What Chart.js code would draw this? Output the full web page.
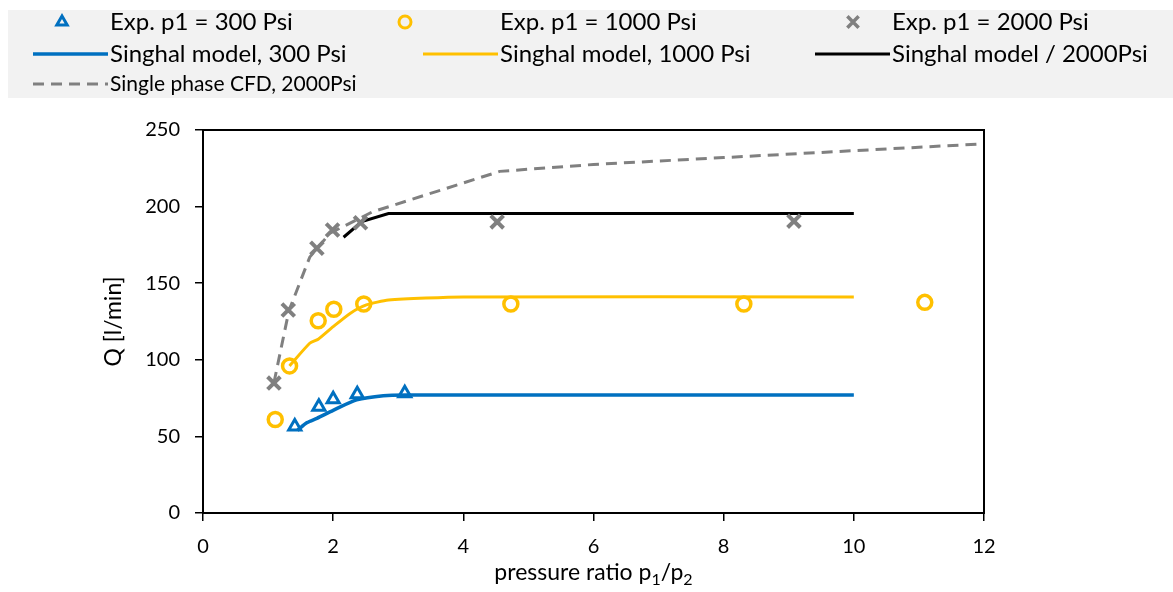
<!DOCTYPE html>
<html>
<head>
<meta charset="utf-8">
<script src="https://cdn.jsdelivr.net/npm/chart.js@4.4.1/dist/chart.umd.min.js"></script>
<style>
  html, body { margin: 0; padding: 0; background: #fff; }
  #wrap { width: 1173px; height: 592px; position: relative; }
</style>
</head>
<body>
<div id="wrap"><canvas id="chart"></canvas></div>
<script>
// experimental points
const ratio300 = [1.41, 1.78, 2.0, 2.37, 3.1];
const flow300 = [56.5, 69.4, 74.2, 77.5, 78.1];
const ratio1000 = [1.11, 1.33, 1.77, 2.01, 2.47, 4.73, 8.31, 11.09];
const flow1000 = [61, 96, 125.5, 133, 136.4, 136.4, 136.4, 137.5];
const ratio2000 = [1.09, 1.31, 1.75, 1.99, 2.42, 4.52, 9.08];
const flow2000 = [84.8, 132.5, 172.8, 184.7, 189.5, 190, 190.5];

// model curves
const model300X = [1.45, 1.6, 1.75, 2.0, 2.36, 2.77, 3.13, 10];
const model300Y = [54, 59, 61.8, 67, 73.8, 76.6, 77, 77];
const model1000X = [1.33, 1.64, 1.77, 2.0, 2.26, 2.51, 2.85, 4.0, 10];
const model1000Y = [96, 110.8, 113.4, 121.6, 130.3, 135.8, 139, 141, 141];
const model2000X = [2.16, 2.44, 2.85, 10];
const model2000Y = [180, 190.2, 195.5, 195.5];
const cfdX = [1.09, 1.32, 1.64, 1.95, 2.36, 2.6, 4.56, 6, 8, 10, 12];
const cfdY = [85, 132, 167, 182.6, 191.3, 196.5, 223, 227.5, 232, 236.5, 241];

const xTicks = [0, 2, 4, 6, 8, 10, 12];
const yTicks = [0, 50, 100, 150, 200, 250];

const FONT = 'Lato, "Open Sans", sans-serif';

function pts(xs, ys) {
  return xs.map((x, i) => ({ x, y: ys[i] }));
}

const datasets = [
  {
    label: 'Exp. p1 = 300 Psi',
    data: pts(ratio300, flow300),
    pointStyle: 'triangle', pointRadius: 7, pointBorderWidth: 3,
    borderColor: '#0070c0', backgroundColor: 'rgba(0,0,0,0)', showLine: false
  },
  {
    label: 'Exp. p1 = 1000 Psi',
    data: pts(ratio1000, flow1000),
    pointStyle: 'circle', pointRadius: 7, pointBorderWidth: 3.5,
    borderColor: '#ffc000', backgroundColor: 'rgba(0,0,0,0)', showLine: false
  },
  {
    label: 'Exp. p1 = 2000 Psi',
    data: pts(ratio2000, flow2000),
    pointStyle: 'crossRot', pointRadius: 9, pointBorderWidth: 4,
    borderColor: '#808080', backgroundColor: 'rgba(0,0,0,0)', showLine: false
  },
  {
    label: 'Singhal model, 300 Psi',
    data: pts(model300X, model300Y),
    borderColor: '#0070c0', borderWidth: 3.5, pointRadius: 0, showLine: true,
    tension: 0.25
  },
  {
    label: 'Singhal model, 1000 Psi',
    data: pts(model1000X, model1000Y),
    borderColor: '#ffc000', borderWidth: 3, pointRadius: 0, showLine: true,
    tension: 0.2
  },
  {
    label: 'Singhal model / 2000Psi',
    data: pts(model2000X, model2000Y),
    borderColor: '#000000', borderWidth: 3, pointRadius: 0, showLine: true
  },
  {
    label: 'Single phase CFD, 2000Psi',
    data: pts(cfdX, cfdY),
    borderColor: '#808080', borderWidth: 3, borderDash: [11, 7], pointRadius: 0, showLine: true
  }
];

// legend layout: [dataset index, marker centre x, text x, row y, font size]
const legendSlots = [
  [0, 62, 110, 22, 24],
  [1, 405, 500, 22, 24],
  [2, 853, 892, 22, 24],
  [3, 70, 110, 54, 24],
  [4, 461, 500, 54, 24],
  [5, 852, 892, 54, 24],
  [6, 68, 110, 84, 21]
];

const legendPlugin = {
  id: 'sheetLegend',
  afterDraw(chart) {
    const ctx = chart.ctx;
    ctx.save();
    ctx.fillStyle = '#f2f2f2';
    ctx.fillRect(8, 10, 1165, 88);
    legendSlots.forEach(([i, mx, tx, y, size]) => {
      const ds = chart.data.datasets[i];
      ctx.strokeStyle = ds.borderColor;
      if (ds.showLine) {
        ctx.lineWidth = ds.borderWidth;
        ctx.setLineDash(ds.borderDash || []);
        ctx.beginPath();
        ctx.moveTo(tx - 77, y);
        ctx.lineTo(tx - 2, y);
        ctx.stroke();
        ctx.setLineDash([]);
      } else {
        ctx.fillStyle = 'rgba(0,0,0,0)';
        ctx.lineWidth = ds.pointStyle === 'crossRot' ? 3.5 : 3;
        Chart.helpers.drawPoint(ctx, {
          pointStyle: ds.pointStyle,
          radius: ds.pointStyle === 'crossRot' ? 8 : 6,
          rotation: 0,
          borderWidth: 3
        }, mx, y);
      }
      ctx.fillStyle = '#000';
      ctx.font = size + 'px ' + FONT;
      ctx.textBaseline = 'middle';
      ctx.textAlign = 'left';
      ctx.fillText(ds.label, tx, y);
    });
    ctx.restore();
  }
};

const framePlugin = {
  id: 'frameAndTitles',
  afterDatasetsDraw(chart) {
    const { ctx, chartArea: a } = chart;
    ctx.save();
    ctx.strokeStyle = '#000';
    ctx.lineWidth = 2;
    ctx.strokeRect(a.left, a.top, a.right - a.left, a.bottom - a.top);

    // x title with subscripts
    ctx.fillStyle = '#000';
    ctx.textBaseline = 'alphabetic';
    const big = '23px ' + FONT;
    const small = '16px ' + FONT;
    const parts = [['pressure ratio p', big, 0], ['1', small, 5], ['/p', big, 0], ['2', small, 5]];
    let w = 0;
    parts.forEach(([t, f]) => { ctx.font = f; w += ctx.measureText(t).width; });
    let x = (a.left + a.right) / 2 - w / 2;
    const base = 580;
    parts.forEach(([t, f, dy]) => {
      ctx.font = f;
      ctx.textAlign = 'left';
      ctx.fillText(t, x, base + dy);
      x += ctx.measureText(t).width;
    });

    // y title
    ctx.translate(114, (a.top + a.bottom) / 2);
    ctx.rotate(-Math.PI / 2);
    ctx.font = '23px ' + FONT;
    ctx.textAlign = 'center';
    ctx.textBaseline = 'middle';
    ctx.fillText('Q [l/min]', 0, 0);
    ctx.restore();
  }
};

new Chart(document.getElementById('chart'), {
  type: 'scatter',
  data: { datasets },
  options: {
    responsive: true,
    maintainAspectRatio: false,
    animation: false,
    layout: { padding: { top: 130, right: 189, left: 0, bottom: 0 } },
    plugins: { legend: { display: false }, tooltip: { enabled: false } },
    scales: {
      x: {
        type: 'linear',
        min: 0,
        max: 12,
        afterFit: (scale) => { scale.height = 79; },
        afterBuildTicks: (scale) => { scale.ticks = xTicks.map((v) => ({ value: v })); },
        grid: { drawOnChartArea: false, tickLength: 8, color: '#000', lineWidth: 1.5 },
        border: { color: '#000', width: 2 },
        ticks: { color: '#000', font: { family: FONT, size: 20 }, padding: 14 }
      },
      y: {
        min: 0,
        max: 250,
        afterFit: (scale) => { scale.width = 203; },
        afterBuildTicks: (scale) => { scale.ticks = yTicks.map((v) => ({ value: v })); },
        grid: { drawOnChartArea: false, tickLength: 8, color: '#000', lineWidth: 1.5 },
        border: { color: '#000', width: 2 },
        ticks: { color: '#000', font: { family: FONT, size: 20 }, padding: 15 }
      }
    }
  },
  plugins: [legendPlugin, framePlugin]
});
</script>
</body>
</html>
